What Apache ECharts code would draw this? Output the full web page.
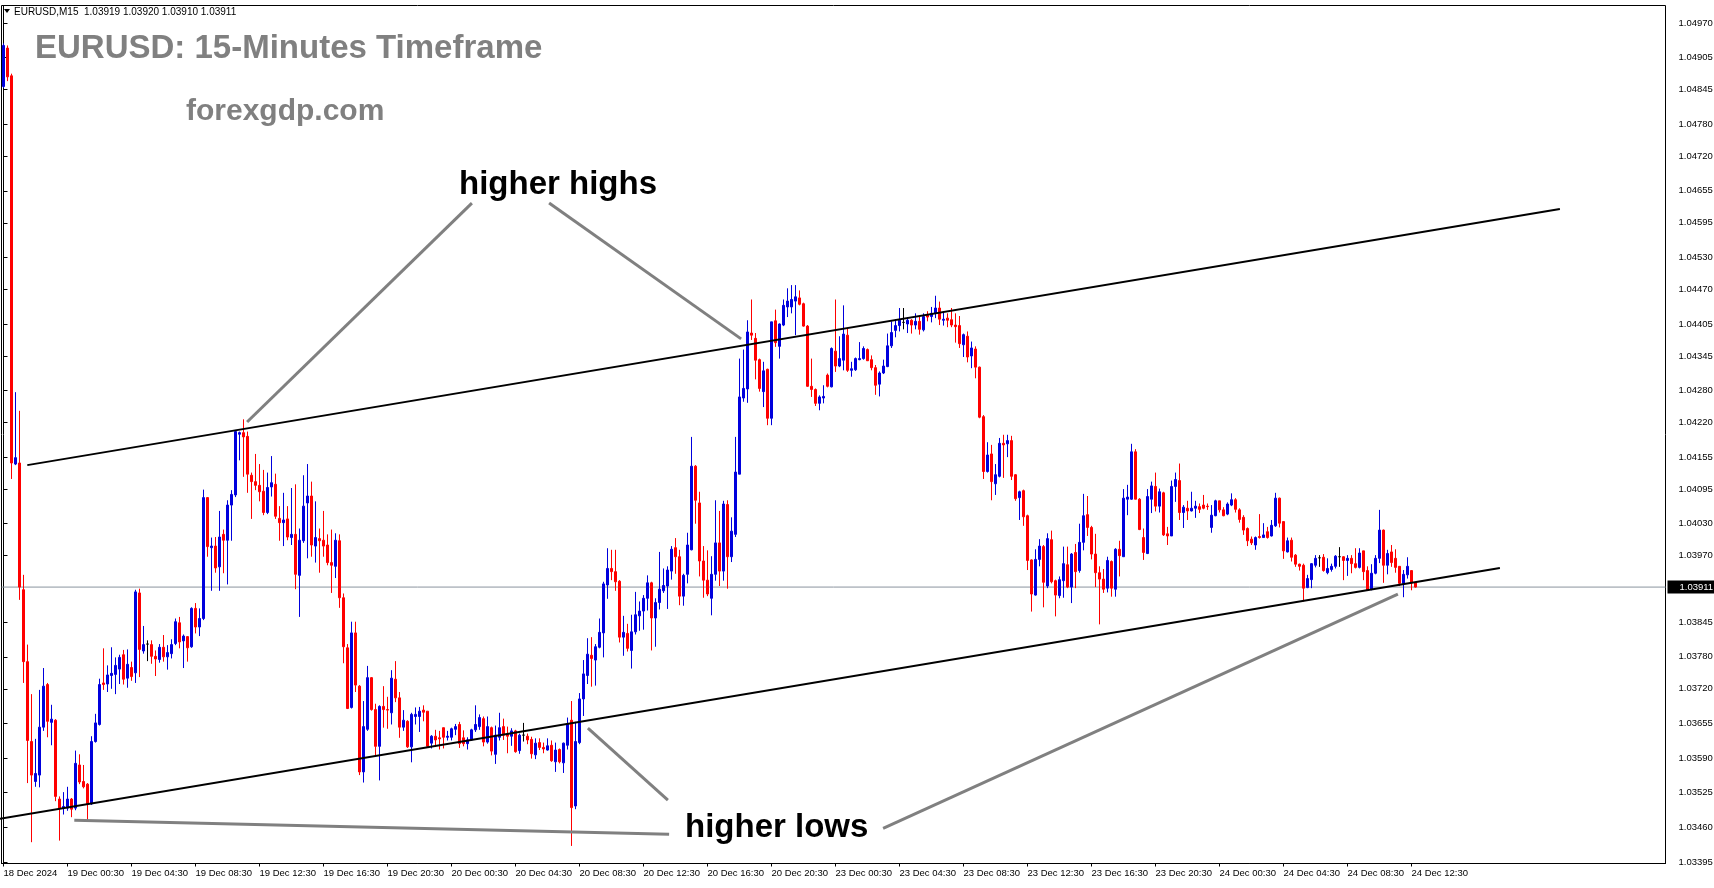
<!DOCTYPE html>
<html>
<head>
<meta charset="utf-8">
<title>EURUSD M15</title>
<script src="https://cdn.jsdelivr.net/npm/echarts@6.0.0/dist/echarts.min.js"></script>
<style>
html,body{margin:0;padding:0;background:#ffffff;overflow:hidden;}
#chart{width:1714px;height:888px;}
</style>
</head>
<body>
<div id="chart"></div>
<script>
// ---------------- DATA ----------------
const symbolName = 'EURUSD';
const timeframe = 'M15';
const firstBarUTC = Date.UTC(2024, 11, 18, 20, 30); // 18 Dec 2024 20:30 (server time)
const barMinutes = 15;
const slotCount = 416; // bar slots visible across the chart width (incl. empty right margin)

const opens = [
1.04851,1.04923,1.04871,1.04142,1.04144,1.03906,1.03771,1.03621,1.03546,1.03558,
1.03648,1.03728,1.03657,1.03661,1.03513,1.03496,1.03496,1.03513,1.03496,1.03577,
1.03546,1.03541,1.03504,1.03621,1.03653,1.03731,1.03729,1.03745,1.03747,1.03757,
1.03784,1.03740,1.03760,1.03750,1.03900,1.03791,1.03804,1.03803,1.03781,1.03775,
1.03798,1.03780,1.03786,1.03805,1.03844,1.03810,1.03818,1.03799,1.03871,1.03836,
1.03852,1.04079,1.03985,1.03988,1.03949,1.04010,1.03999,1.04065,1.04084,1.04198,
1.04201,1.04194,1.04121,1.04109,1.04102,1.04091,1.04051,1.04099,1.04104,1.04040,
1.04032,1.04039,1.04004,1.04010,1.03933,1.03998,1.04069,1.04082,1.03988,1.04002,
1.03999,1.03990,1.03957,1.03950,1.03998,1.03891,1.03797,1.03685,1.03825,1.03725,
1.03564,1.03644,1.03741,1.03681,1.03612,1.03687,1.03681,1.03675,1.03738,1.03703,
1.03648,1.03659,1.03611,1.03668,1.03668,1.03680,1.03678,1.03618,1.03631,1.03628,
1.03647,1.03629,1.03629,1.03644,1.03653,1.03628,1.03617,1.03624,1.03643,1.03649,
1.03664,1.03620,1.03647,1.03597,1.03629,1.03649,1.03635,1.03631,1.03641,1.03604,
1.03633,1.03631,1.03625,1.03596,1.03619,1.03610,1.03605,1.03614,1.03583,1.03606,
1.03581,1.03614,1.03661,1.03500,1.03619,1.03701,1.03745,1.03783,1.03774,1.03798,
1.03825,1.03915,1.03946,1.03940,1.03922,1.03817,1.03824,1.03792,1.03827,1.03857,
1.03866,1.03890,1.03919,1.03853,1.03882,1.03904,1.03913,1.03941,1.03985,1.03968,
1.03894,1.03935,1.03981,1.04138,1.04069,1.03960,1.03924,1.03890,1.03935,1.03994,
1.03941,1.04066,1.03968,1.04010,1.04123,1.04266,1.04283,1.04388,1.04378,1.04338,
1.04278,1.04320,1.04228,1.04411,1.04363,1.04403,1.04437,1.04437,1.04448,1.04454,
1.04443,1.04401,1.04288,1.04282,1.04256,1.04266,1.04309,1.04287,1.04354,1.04326,
1.04337,1.04384,1.04318,1.04319,1.04338,1.04340,1.04357,1.04338,1.04323,1.04292,
1.04313,1.04325,1.04364,1.04393,1.04402,1.04408,1.04405,1.04412,1.04403,1.04410,
1.04394,1.04422,1.04419,1.04425,1.04435,1.04412,1.04416,1.04413,1.04403,1.04402,
1.04366,1.04382,1.04345,1.04358,1.04324,1.04231,1.04128,1.04161,1.04105,1.04119,
1.04181,1.04180,1.04186,1.04122,1.04079,1.04092,1.04045,1.03962,1.03896,1.03963,
1.03987,1.03913,1.04000,1.03923,1.03895,1.03923,1.03953,1.03911,1.03976,1.03942,
1.03995,1.04047,1.04023,1.03973,1.03938,1.03926,1.03909,1.03959,1.03907,1.03982,
1.03968,1.04076,1.04076,1.04165,1.04076,1.04004,1.03974,1.04076,1.04100,1.04063,
1.04088,1.04011,1.04007,1.04100,1.04111,1.04051,1.04059,1.04054,1.04059,1.04062,
1.04065,1.04063,1.04023,1.04045,1.04073,1.04056,1.04048,1.04065,1.04075,1.04056,
1.04042,1.04021,1.04001,1.03990,1.04006,1.04004,1.04015,1.04007,1.04026,1.04078,
1.04034,1.03977,1.03999,1.03971,1.03954,1.03952,1.03910,1.03925,1.03952,1.03966,
1.03967,1.03938,1.03944,1.03950,1.03968,1.03968,1.03961,1.03965,1.03955,1.03948,
1.03979,1.03942,1.03907,1.03937,1.03965,1.04018,1.03952,1.03977,1.03965,1.03950,
1.03918,1.03934,1.03942,1.03919
];
const highs = [
1.04932,1.04928,1.04875,1.04277,1.04242,1.03934,1.03803,1.03710,1.03626,1.03718,
1.03759,1.03731,1.03690,1.03663,1.03518,1.03526,1.03536,1.03515,1.03604,1.03597,
1.03577,1.03543,1.03631,1.03673,1.03739,1.03796,1.03764,1.03798,1.03779,1.03784,
1.03793,1.03794,1.03771,1.03906,1.03908,1.03838,1.03811,1.03811,1.03792,1.03804,
1.03821,1.03802,1.03813,1.03852,1.03855,1.03822,1.03819,1.03873,1.03881,1.03871,
1.04094,1.04080,1.04004,1.04005,1.04054,1.04019,1.04074,1.04093,1.04206,1.04203,
1.04226,1.04203,1.04126,1.04161,1.04142,1.04131,1.04126,1.04157,1.04124,1.04063,
1.04088,1.04063,1.04097,1.04104,1.04021,1.04121,1.04142,1.04109,1.04072,1.04021,
1.04054,1.04010,1.04019,1.04012,1.04010,1.03899,1.03804,1.03846,1.03846,1.03727,
1.03697,1.03763,1.03742,1.03692,1.03689,1.03725,1.03705,1.03755,1.03772,1.03714,
1.03680,1.03661,1.03675,1.03685,1.03686,1.03689,1.03678,1.03633,1.03643,1.03641,
1.03647,1.03641,1.03647,1.03654,1.03658,1.03642,1.03629,1.03645,1.03689,1.03672,
1.03668,1.03668,1.03649,1.03651,1.03675,1.03664,1.03649,1.03646,1.03643,1.03636,
1.03656,1.03636,1.03630,1.03627,1.03627,1.03619,1.03627,1.03623,1.03619,1.03608,
1.03619,1.03666,1.03697,1.03658,1.03712,1.03774,1.03815,1.03817,1.03804,1.03852,
1.03921,1.03984,1.03981,1.03981,1.03924,1.03857,1.03842,1.03859,1.03902,1.03884,
1.03896,1.03933,1.03921,1.03890,1.03977,1.03946,1.03950,1.03988,1.04003,1.03981,
1.03936,1.04013,1.04193,1.04140,1.04090,1.03988,1.03980,1.03969,1.04074,1.04054,
1.04073,1.04074,1.04042,1.04193,1.04340,1.04357,1.04412,1.04451,1.04388,1.04340,
1.04334,1.04321,1.04409,1.04432,1.04406,1.04451,1.04472,1.04478,1.04478,1.04468,
1.04445,1.04403,1.04340,1.04284,1.04271,1.04290,1.04312,1.04361,1.04451,1.04382,
1.04440,1.04396,1.04334,1.04342,1.04371,1.04363,1.04359,1.04346,1.04328,1.04316,
1.04338,1.04387,1.04410,1.04414,1.04435,1.04435,1.04418,1.04414,1.04425,1.04420,
1.04425,1.04429,1.04437,1.04458,1.04447,1.04429,1.04425,1.04435,1.04425,1.04420,
1.04387,1.04391,1.04372,1.04363,1.04325,1.04234,1.04183,1.04178,1.04142,1.04191,
1.04197,1.04197,1.04195,1.04123,1.04092,1.04094,1.04047,1.03963,1.03982,1.04001,
1.03990,1.04012,1.04017,1.03925,1.03931,1.03987,1.03987,1.03975,1.03992,1.04030,
1.04086,1.04082,1.04026,1.04011,1.03950,1.03945,1.03968,1.03961,1.03984,1.03998,
1.04095,1.04103,1.04180,1.04170,1.04078,1.04021,1.04095,1.04109,1.04126,1.04096,
1.04090,1.04024,1.04111,1.04126,1.04143,1.04065,1.04073,1.04090,1.04073,1.04068,
1.04084,1.04068,1.04065,1.04075,1.04073,1.04061,1.04070,1.04087,1.04078,1.04059,
1.04046,1.04023,1.04006,1.04006,1.04048,1.04031,1.04024,1.04037,1.04088,1.04079,
1.04034,1.04004,1.04004,1.03973,1.03955,1.03955,1.03934,1.03956,1.03971,1.03971,
1.03973,1.03965,1.03955,1.03971,1.03986,1.03969,1.03971,1.03971,1.03984,1.03984,
1.03979,1.03950,1.03954,1.03971,1.04056,1.04019,1.03981,1.03990,1.03982,1.03950,
1.03943,1.03967,1.03942,1.03920
];
const lows = [
1.04848,1.04861,1.04114,1.04140,1.03887,1.03731,1.03543,1.03432,1.03536,1.03535,
1.03641,1.03629,1.03614,1.03509,1.03435,1.03484,1.03491,1.03479,1.03492,1.03541,
1.03533,1.03474,1.03502,1.03619,1.03651,1.03718,1.03714,1.03720,1.03710,1.03729,
1.03728,1.03722,1.03735,1.03731,1.03742,1.03786,1.03772,1.03767,1.03744,1.03769,
1.03771,1.03756,1.03777,1.03802,1.03796,1.03759,1.03771,1.03797,1.03824,1.03819,
1.03849,1.03968,1.03904,1.03938,1.03904,1.03937,1.03916,1.03998,1.04080,1.04149,
1.04118,1.04088,1.04039,1.04093,1.04072,1.04046,1.04048,1.04081,1.04039,1.03998,
1.03988,1.03999,1.03990,1.03907,1.03855,1.03994,1.03965,1.03968,1.03957,1.03938,
1.03968,1.03952,1.03900,1.03928,1.03872,1.03768,1.03682,1.03683,1.03714,1.03558,
1.03544,1.03641,1.03679,1.03594,1.03548,1.03647,1.03645,1.03653,1.03695,1.03628,
1.03641,1.03609,1.03582,1.03653,1.03639,1.03659,1.03609,1.03608,1.03611,1.03606,
1.03608,1.03623,1.03623,1.03633,1.03609,1.03612,1.03606,1.03622,1.03639,1.03643,
1.03612,1.03617,1.03595,1.03579,1.03623,1.03624,1.03599,1.03613,1.03600,1.03598,
1.03621,1.03616,1.03589,1.03588,1.03605,1.03599,1.03604,1.03583,1.03564,1.03580,
1.03562,1.03606,1.03425,1.03494,1.03616,1.03669,1.03729,1.03724,1.03726,1.03796,
1.03779,1.03889,1.03924,1.03904,1.03807,1.03782,1.03790,1.03758,1.03822,1.03829,
1.03831,1.03867,1.03792,1.03799,1.03869,1.03900,1.03870,1.03925,1.03936,1.03877,
1.03876,1.03918,1.03980,1.04030,1.03931,1.03891,1.03894,1.03858,1.03923,1.03913,
1.03923,1.03908,1.03958,1.04005,1.04123,1.04259,1.04257,1.04375,1.04301,1.04278,
1.04249,1.04215,1.04215,1.04362,1.04340,1.04401,1.04418,1.04425,1.04384,1.04440,
1.04400,1.04287,1.04268,1.04251,1.04243,1.04256,1.04286,1.04286,1.04315,1.04324,
1.04318,1.04315,1.04306,1.04317,1.04337,1.04338,1.04336,1.04318,1.04272,1.04269,
1.04311,1.04324,1.04360,1.04380,1.04391,1.04395,1.04388,1.04387,1.04395,1.04385,
1.04391,1.04410,1.04408,1.04416,1.04403,1.04402,1.04399,1.04399,1.04370,1.04360,
1.04343,1.04333,1.04322,1.04303,1.04228,1.04114,1.04126,1.04074,1.04084,1.04117,
1.04116,1.04155,1.04112,1.04073,1.04037,1.04026,1.03943,1.03865,1.03895,1.03950,
1.03873,1.03909,1.03918,1.03856,1.03890,1.03891,1.03909,1.03881,1.03909,1.03938,
1.03980,1.04007,1.03963,1.03911,1.03841,1.03900,1.03901,1.03893,1.03893,1.03931,
1.03968,1.04046,1.04075,1.04076,1.04018,1.03962,1.03973,1.04050,1.04053,1.04051,
1.04007,1.03990,1.04007,1.04071,1.04037,1.04022,1.04037,1.04053,1.04041,1.04050,
1.04057,1.04056,1.04013,1.04044,1.04051,1.04044,1.04046,1.04063,1.04051,1.04032,
1.04009,1.03988,1.03990,1.03981,1.04002,1.04004,1.04002,1.04006,1.04024,1.04023,
1.03964,1.03976,1.03959,1.03949,1.03942,1.03884,1.03909,1.03909,1.03948,1.03949,
1.03940,1.03935,1.03940,1.03946,1.03949,1.03924,1.03932,1.03937,1.03946,1.03946,
1.03924,1.03904,1.03905,1.03935,1.03956,1.03919,1.03935,1.03949,1.03938,1.03913,
1.03892,1.03927,1.03905,1.03910
];
const closes = [
1.04928,1.04869,1.04144,1.04154,1.03911,1.03771,1.03623,1.03558,1.03561,1.03648,
1.03725,1.03659,1.03663,1.03518,1.03496,1.03499,1.03513,1.03494,1.03580,1.03545,
1.03536,1.03504,1.03621,1.03656,1.03728,1.03728,1.03746,1.03749,1.03764,1.03779,
1.03738,1.03766,1.03743,1.03902,1.03794,1.03803,1.03804,1.03781,1.03776,1.03798,
1.03780,1.03788,1.03803,1.03846,1.03808,1.03819,1.03797,1.03871,1.03836,1.03852,
1.04079,1.03987,1.03988,1.03947,1.04005,1.03999,1.04065,1.04085,1.04203,1.04201,
1.04193,1.04123,1.04109,1.04102,1.04090,1.04051,1.04098,1.04107,1.04044,1.04032,
1.04037,1.04005,1.04010,1.03935,1.03999,1.04063,1.04082,1.03990,1.04004,1.03998,
1.03988,1.03957,1.03952,1.03999,1.03891,1.03799,1.03683,1.03825,1.03727,1.03564,
1.03649,1.03741,1.03681,1.03612,1.03687,1.03681,1.03680,1.03740,1.03703,1.03648,
1.03661,1.03611,1.03672,1.03672,1.03678,1.03676,1.03612,1.03631,1.03624,1.03626,
1.03629,1.03631,1.03645,1.03649,1.03617,1.03617,1.03624,1.03643,1.03653,1.03666,
1.03620,1.03649,1.03603,1.03633,1.03647,1.03633,1.03631,1.03641,1.03602,1.03633,
1.03633,1.03624,1.03598,1.03618,1.03610,1.03607,1.03613,1.03585,1.03605,1.03583,
1.03618,1.03654,1.03497,1.03621,1.03701,1.03748,1.03785,1.03777,1.03799,1.03826,
1.03917,1.03946,1.03940,1.03921,1.03817,1.03826,1.03796,1.03827,1.03859,1.03866,
1.03890,1.03919,1.03853,1.03882,1.03907,1.03914,1.03943,1.03982,1.03968,1.03894,
1.03933,1.03990,1.04138,1.04074,1.03960,1.03924,1.03898,1.03935,1.03994,1.03941,
1.04067,1.03968,1.04016,1.04127,1.04268,1.04284,1.04390,1.04384,1.04337,1.04284,
1.04317,1.04228,1.04409,1.04370,1.04405,1.04440,1.04448,1.04451,1.04456,1.04442,
1.04401,1.04288,1.04282,1.04256,1.04268,1.04269,1.04288,1.04359,1.04326,1.04340,
1.04386,1.04318,1.04321,1.04340,1.04340,1.04359,1.04336,1.04323,1.04290,1.04313,
1.04326,1.04364,1.04389,1.04402,1.04412,1.04408,1.04412,1.04403,1.04410,1.04395,
1.04419,1.04418,1.04425,1.04435,1.04414,1.04414,1.04412,1.04403,1.04400,1.04368,
1.04385,1.04343,1.04360,1.04324,1.04230,1.04128,1.04159,1.04109,1.04122,1.04181,
1.04178,1.04186,1.04119,1.04077,1.04090,1.04043,1.03961,1.03898,1.03963,1.03988,
1.03920,1.04002,1.03921,1.03896,1.03925,1.03955,1.03911,1.03973,1.03940,1.03995,
1.04045,1.04023,1.03973,1.03938,1.03926,1.03907,1.03961,1.03909,1.03982,1.03970,
1.04078,1.04080,1.04165,1.04076,1.04019,1.03976,1.04081,1.04101,1.04063,1.04090,
1.04009,1.04007,1.04100,1.04113,1.04051,1.04061,1.04054,1.04059,1.04063,1.04057,
1.04059,1.04062,1.04046,1.04073,1.04056,1.04045,1.04067,1.04075,1.04057,1.04038,
1.04018,1.03998,1.03994,1.04004,1.04004,1.04009,1.04004,1.04027,1.04078,1.04031,
1.03979,1.03998,1.03967,1.03954,1.03950,1.03909,1.03927,1.03955,1.03965,1.03966,
1.03942,1.03946,1.03950,1.03969,1.03968,1.03961,1.03965,1.03955,1.03948,1.03975,
1.03940,1.03905,1.03937,1.03965,1.04018,1.03952,1.03974,1.03957,1.03948,1.03918,
1.03935,1.03950,1.03919,1.03911
];

// price axis labels as printed on the reference
const priceTicks = ['1.04970','1.04905','1.04845','1.04780','1.04720','1.04655','1.04595','1.04530',
  '1.04470','1.04405','1.04345','1.04280','1.04220','1.04155','1.04095','1.04030','1.03970',
  '1.03845','1.03780','1.03720','1.03655','1.03590','1.03525','1.03460','1.03395'];
const priceMin = 1.03392;
const priceMax = 1.05003;

// trend lines [barIndex, price]
const upperChannel = [[5.95, 1.04140], [389.1, 1.04621]];
const lowerChannel = [[-0.9, 1.03476], [374.1, 1.03947]];
// annotation pointers [barIndex, price]
const pointerHH1 = [[117.1, 1.04632], [60.9, 1.04221]];
const pointerHH2 = [[136.4, 1.04632], [184.4, 1.04377]];
const pointerHL1 = [[17.7, 1.03473], [166.4, 1.03447]];
const pointerHL2 = [[146.1, 1.03646], [166.1, 1.03511]];
const pointerHL3 = [[219.9, 1.03458], [348.6, 1.03898]];

// ---------------- BUILD ----------------
const barCount = opens.length;
const MONTHS = ['Jan','Feb','Mar','Apr','May','Jun','Jul','Aug','Sep','Oct','Nov','Dec'];
const pad = n => (n < 10 ? '0' : '') + n;
const times = [];
{
  let t = firstBarUTC;
  while (times.length < slotCount) {
    const wd = new Date(t).getUTCDay();
    if (wd !== 0 && wd !== 6) times.push(t);
    t += barMinutes * 60000;
  }
}
const categories = times.map(t => {
  const d = new Date(t);
  return d.getUTCFullYear() + '.' + pad(d.getUTCMonth() + 1) + '.' + pad(d.getUTCDate()) + ' ' +
    pad(d.getUTCHours()) + ':' + pad(d.getUTCMinutes());
});
function showLabel(index) {
  if (index >= barCount) return false;
  if (index === 0) return true;
  const d = new Date(times[index]);
  return d.getUTCMinutes() === 30 && d.getUTCHours() % 4 === 0;
}
function fmtLabel(value, index) {
  const d = new Date(times[index]);
  if (index === 0) return d.getUTCDate() + ' ' + MONTHS[d.getUTCMonth()] + ' ' + d.getUTCFullYear();
  return d.getUTCDate() + ' ' + MONTHS[d.getUTCMonth()] + ' ' + pad(d.getUTCHours()) + ':' + pad(d.getUTCMinutes());
}
const ohlc = opens.map((o, i) => [o, closes[i], lows[i], highs[i]]);
const last = barCount - 1;
const lastPrice = closes[last];
const headerText = symbolName + ',' + timeframe + '  ' + opens[last].toFixed(5) + ' ' + highs[last].toFixed(5) +
  ' ' + lows[last].toFixed(5) + ' ' + closes[last].toFixed(5);
const tickValues = priceTicks.map(Number);
const bidLine = [[-0.5, lastPrice], [slotCount - 0.5, lastPrice]];

const BULL = '#0000dd';
const BEAR = '#ff0000';
const FONT = '"Liberation Sans", Arial, sans-serif';

function overlay(data, color, width) {
  return {
    type: 'line', xAxisIndex: 1, yAxisIndex: 0, data: data, symbol: 'none', silent: true,
    lineStyle: { color: color, width: width }, z: 5, animation: false, clip: true
  };
}

const chart = echarts.init(document.getElementById('chart'), null, { renderer: 'canvas', width: 1714, height: 888 });
chart.setOption({
  animation: false,
  backgroundColor: '#ffffff',
  textStyle: { fontFamily: FONT },
  grid: {
    left: 1.5, right: 48.5, top: 5.5, bottom: 24.5,
    show: true, borderColor: '#000', borderWidth: 1, backgroundColor: 'transparent',
    containLabel: false, outerBoundsMode: 'none'
  },
  xAxis: [
    {
      type: 'category', data: categories, boundaryGap: true,
      axisLine: { show: true, onZero: false, lineStyle: { color: '#000', width: 1 } },
      axisTick: { show: true, alignWithLabel: true, interval: showLabel, length: 3, lineStyle: { color: '#000' } },
      axisLabel: { show: true, interval: showLabel, formatter: fmtLabel, align: 'left', margin: 5,
        fontSize: 9.5, color: '#000', fontFamily: FONT, hideOverlap: false },
      splitLine: { show: false }
    },
    { type: 'value', gridIndex: 0, min: -0.5, max: slotCount - 0.5, show: false, splitLine: { show: false } }
  ],
  yAxis: [{
    type: 'value', position: 'right', min: priceMin, max: priceMax,
    axisLine: { show: true, lineStyle: { color: '#000' } },
    axisTick: { show: true, customValues: tickValues, length: 4, lineStyle: { color: '#000' } },
    axisLabel: { show: true, customValues: tickValues, formatter: v => v.toFixed(5), margin: 13,
      fontSize: 9.5, color: '#000', fontFamily: FONT },
    splitLine: { show: false }
  }],
  series: [
    {
      type: 'line', name: 'bid', xAxisIndex: 1, yAxisIndex: 0, data: bidLine, symbol: 'none', silent: true,
      lineStyle: { color: '#8a949e', width: 1 }, z: 1, animation: false, clip: false,
      endLabel: { show: true, formatter: lastPrice.toFixed(5), distance: 2, color: '#fff', backgroundColor: '#000',
        padding: [2, 6, 1, 12], fontSize: 9.5, fontFamily: FONT }
    },
    {
      type: 'candlestick', name: symbolName, xAxisIndex: 0, yAxisIndex: 0, data: ohlc,
      barWidth: 2,
      itemStyle: { color: BULL, color0: BEAR, borderColor: BULL, borderColor0: BEAR, borderColorDoji: '#000', borderWidth: 1 },
      emphasis: { disabled: true },
      z: 2
    },
    overlay(upperChannel, '#000', 2),
    overlay(lowerChannel, '#000', 2),
    overlay(pointerHH1, '#808080', 3),
    overlay(pointerHH2, '#808080', 3),
    overlay(pointerHL1, '#808080', 3),
    overlay(pointerHL2, '#808080', 3),
    overlay(pointerHL3, '#808080', 3)
  ],
  graphic: [
    { type: 'polygon', shape: { points: [[4, 9], [10, 9], [7, 13]] }, style: { fill: '#000' }, silent: true },
    { type: 'text', x: 14, y: 12, silent: true,
      style: { text: headerText, font: '10px ' + FONT, fill: '#000', textVerticalAlign: 'middle', verticalAlign: 'middle' } },
    { type: 'text', x: 35, y: 49, silent: true,
      style: { text: 'EURUSD: 15-Minutes Timeframe', font: 'bold 33px ' + FONT, fill: '#808080', textVerticalAlign: 'middle', verticalAlign: 'middle' } },
    { type: 'text', x: 186, y: 112, silent: true,
      style: { text: 'forexgdp.com', font: 'bold 30px ' + FONT, fill: '#808080', textVerticalAlign: 'middle', verticalAlign: 'middle' } },
    { type: 'text', x: 459, y: 185, silent: true,
      style: { text: 'higher highs', font: 'bold 33px ' + FONT, fill: '#000', textVerticalAlign: 'middle', verticalAlign: 'middle' } },
    { type: 'text', x: 685, y: 828, silent: true,
      style: { text: 'higher lows', font: 'bold 33px ' + FONT, fill: '#000', textVerticalAlign: 'middle', verticalAlign: 'middle' } }
  ]
});
</script>
</body>
</html>
